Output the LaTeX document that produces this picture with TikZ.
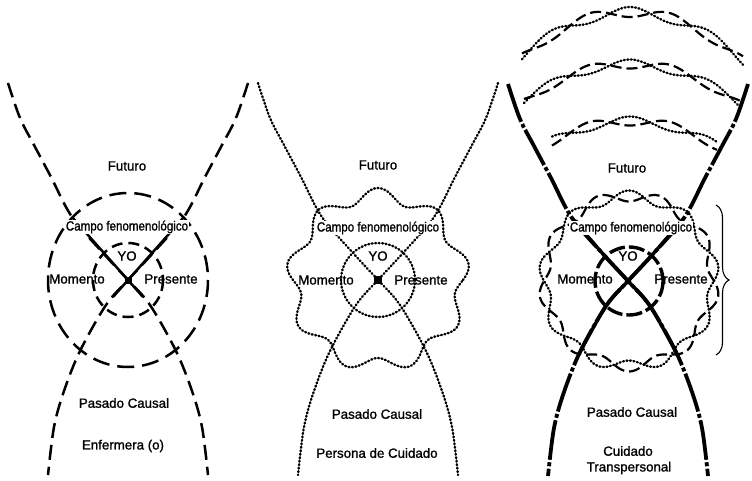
\documentclass[tikz,border=0pt]{standalone}
\usepackage{fontspec}
\setmainfont{Liberation Sans}
\newfontfamily\lblfont{Liberation Sans}[FakeBold=1.2]
\usetikzlibrary{decorations.pathreplacing}
\newcommand\hglass[1]{%
 \draw[#1] plot[smooth,tension=0.55] coordinates {(-120,-197) (-108,-162) (-94,-135) (-77,-103) (-56,-63) (-25,-27) (0,0) (22,25) (48,71) (64,111) (74,147) (80,195)};
 \draw[#1] plot[smooth,tension=0.55] coordinates {(120,-197) (108,-162) (94,-135) (77,-103) (56,-63) (25,-27) (0,0) (-22,25) (-48,71) (-64,111) (-74,147) (-80,195)};}
\newcommand\hmid[1]{%
 \draw[#1] plot[smooth,tension=0.55] coordinates {(-56,-63) (-25,-27) (0,0) (22,25) (48,71)};
 \draw[#1] plot[smooth,tension=0.55] coordinates {(56,-63) (25,-27) (0,0) (-22,25) (-48,71)};}
\tikzset{
 lbl/.style={font=\lblfont\fontsize{13.3}{14}\selectfont, inner sep=0.5pt},
 lblw/.style={lbl, fill=white},
 dashA/.style={line width=2.5pt, dash pattern=on 15pt off 7pt},
 dotB/.style={line width=2.4pt, line cap=round, dash pattern=on 0.9pt off 2.6pt},
 dashB/.style={line width=2.2pt, dash pattern=on 11pt off 5pt},
 thickC/.style={line width=3.8pt, dash pattern=on 40pt off 2.5pt on 4pt off 2.5pt},
 solidC/.style={line width=3.4pt},
}
\begin{document}
\begin{tikzpicture}[x=1pt, y=-1pt]
\useasboundingbox (0,0) rectangle (752,481);

% ---------- panel 1 ----------
\begin{scope}[shift={(128,280)}]
 \hglass{dashA}
 \draw[line width=2.5pt] (-56,-63) -- (15,17) (56,-63) -- (-15,17);
 \draw[line width=2.5pt, dash pattern=on 17pt off 8pt] (0,0) ellipse [x radius=80, y radius=87];
 \draw[line width=2.5pt, dash pattern=on 11pt off 6pt] (0,0) ellipse [x radius=35, y radius=37];
 \fill (-3.5,-3.5) rectangle (3.5,3.5);
\end{scope}
\node[lbl] (f1) at (127,166) {Futuro};
\node[lblw] (c1) at (127,227) {\scalebox{0.87}[1]{Campo fenomenológico}};
\node[lbl] (y1) at (127,256) {YO};
\node[lbl] (m1) at (77,279) {Momento};
\node[lbl] (p1) at (171,279) {Presente};
\node[lbl] (pc1) at (124,403) {Pasado Causal};
\node[lbl] (e1) at (123,446) {Enfermera (o)};

% ---------- panel 2 ----------
\begin{scope}[shift={(378,280)}]
 \hglass{dotB}
 \draw[dotB] plot[domain=0:360, samples=220, smooth] ({(85+7*cos(9*(\x-90)))*cos(\x)}, {-(85+7*cos(9*(\x-90)))*sin(\x)});
 \draw[dotB] (0,0) circle [radius=37];
 \fill (-4,-4) rectangle (4,4);
\end{scope}
\node[lbl] (f2) at (378,165) {Futuro};
\node[lblw] (c2) at (378,228) {\scalebox{0.87}[1]{Campo fenomenológico}};
\node[lbl] (y2) at (378,256) {YO};
\node[lbl] (m2) at (326,280) {Momento};
\node[lbl] (p2) at (421,280) {Presente};
\node[lbl] (pc2) at (377,414) {Pasado Causal};
\node[lbl] (e2) at (377,453) {Persona de Cuidado};

% ---------- panel 3 ----------
\draw[dotB] plot[domain=522:743, samples=120, smooth] (\x, {12+0.38*((\x-630)/10)^2 - 5*cos(4.5*(\x-630))});
\draw[dashB] plot[domain=522:743, samples=120, smooth] (\x, {12+0.38*((\x-630)/10)^2 + 5*cos(4.5*(\x-630))});
\draw[dotB] plot[domain=524:741, samples=120, smooth] (\x, {64+0.33*((\x-630)/10)^2 - 4.5*cos(4.5*(\x-630))});
\draw[dashB] plot[domain=524:741, samples=120, smooth] (\x, {64+0.33*((\x-630)/10)^2 + 4.5*cos(4.5*(\x-630))});
\draw[dotB] plot[domain=552:717, samples=100, smooth] (\x, {121+0.33*((\x-630)/10)^2 - 4.5*cos(4.5*(\x-630))});
\draw[dashB] plot[domain=552:717, samples=100, smooth] (\x, {121+0.33*((\x-630)/10)^2 + 4.5*cos(4.5*(\x-630))});
\begin{scope}[shift={(629,281)}]
 \draw[dotB] plot[domain=0:360, samples=220, smooth] ({(85+5.5*cos(9*(\x-90)))*cos(\x)}, {-(85+5.5*cos(9*(\x-90)))*sin(\x)});
 \draw[dashB] plot[domain=0:360, samples=220, smooth] ({(85-5.5*cos(9*(\x-90)))*cos(\x)}, {-(85-5.5*cos(9*(\x-90)))*sin(\x)});
\end{scope}
\begin{scope}[shift={(628,281)}]
 \hglass{thickC}
 \hmid{solidC}
 \draw[line width=3.4pt, dash pattern=on 16pt off 4pt] (1,0) circle [radius=34];
 \fill (-2.5,-2.5) rectangle (2.5,2.5);
\end{scope}
\node[lbl] (f3) at (627,168) {Futuro};
\node[lblw] (c3) at (631,228) {\scalebox{0.87}[1]{Campo fenomenológico}};
\node[lbl] (y3) at (628,256) {YO};
\node[lbl] (m3) at (585,279) {Momento};
\node[lbl] (p3) at (681,279) {Presente};
\node[lbl] (pc3) at (632,412) {Pasado Causal};
\node[lbl] (e3) at (628,451) {Cuidado};
\node[lbl] (t3) at (629,468) {Transpersonal};
\coordinate (bt) at (716,205);
\coordinate (bb) at (716,355);
\draw[line width=1.1pt, decorate, decoration={brace, amplitude=13pt}] (bt) -- (bb);
\end{tikzpicture}
\end{document}
